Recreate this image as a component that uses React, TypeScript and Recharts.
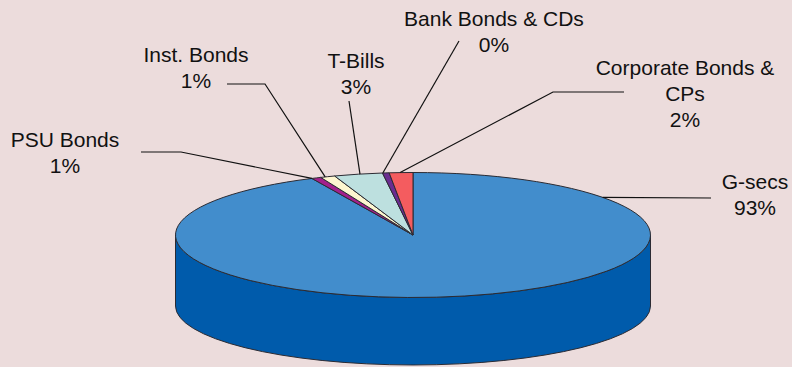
import { Pie, PieChart } from "recharts";

const WIDTH = 792;
const HEIGHT = 367;
const BACKGROUND = "#ecdcdc";
const EDGE = "#2b2b33";
const TEXT = "#111111";

const categories = ["G-secs", "PSU Bonds", "Inst. Bonds", "T-Bills", "Bank Bonds & CDs", "Corporate Bonds &\nCPs"];
const shares = [93, 0.65, 1, 3.3, 0.45, 1.6];
const topColors = ["#428dcc", "#a3208c", "#fdf6cf", "#bde0df", "#6a2c91", "#f45c5f"];
const sideColors = ["#005bab", "#7a1869", "#bdb89b", "#8da8a7", "#4f216d", "#b74547"];

// where each label sits (centre x, first baseline) and how its leader runs
const labelAnchors = [
  [755, 189],
  [65, 147],
  [196, 62],
  [356, 68],
  [494, 26],
  [685, 75],
];
const leaderBends = [
  [[711, 198]],
  [[141, 152], [181, 152]],
  [[227, 84], [265, 84]],
  [[349, 101]],
  [[459, 41]],
  [[624, 92], [553, 92]],
];
const leaderAngles = [37, 115.2, 111.7, 102.9, 97.3, 93.1];

const CX = 413;
const CY = 235;
const RX = 237.5;
const RY = 62.5;
const BASE_CY = 306;
const BASE_RY = 59;
const FONT_SIZE = 21;
const LINE_HEIGHT = 26;

const chartData = categories.map((name, i) => ({ name, value: shares[i], fill: topColors[i] }));
const sideData = categories.map((name, i) => ({ name, value: shares[i], fill: sideColors[i] }));

const onEllipse = (deg: number, cy = CY, ry = RY) => {
  const a = (deg * Math.PI) / 180;
  return { x: CX + RX * Math.cos(a), y: cy - ry * Math.sin(a) };
};

// the chart's top face: a circular sector squashed onto the ellipse
function TopSlice(props: any) {
  const { startAngle, endAngle, fill } = props;
  const from = onEllipse(startAngle);
  const to = onEllipse(endAngle);
  const large = Math.abs(startAngle - endAngle) > 180 ? 1 : 0;
  return (
    <path
      d={`M${CX},${CY} L${from.x},${from.y} A${RX},${RY} 0 ${large} 1 ${to.x},${to.y} Z`}
      fill={fill}
      stroke={EDGE}
      strokeWidth={1}
      strokeLinejoin="round"
    />
  );
}

// the visible wall, only the part of a slice facing the front
function SideSlice(props: any) {
  const { startAngle, endAngle, fill } = props;
  const a0 = Math.min(startAngle, 0);
  const a1 = Math.max(endAngle, -180);
  if (a0 <= a1) return null;
  const t0 = onEllipse(a0);
  const t1 = onEllipse(a1);
  const b0 = onEllipse(a0, BASE_CY, BASE_RY);
  const b1 = onEllipse(a1, BASE_CY, BASE_RY);
  return (
    <path
      d={`M${t0.x},${t0.y} A${RX},${RY} 0 0 1 ${t1.x},${t1.y} L${b1.x},${b1.y} A${RX},${BASE_RY} 0 0 0 ${b0.x},${b0.y} Z`}
      fill={fill}
      stroke={EDGE}
      strokeWidth={1}
    />
  );
}

function SliceLabel(props: any) {
  const { index, name, percent } = props;
  const [x, y] = labelAnchors[index];
  const rows = [...String(name).split("\n"), `${Math.round(percent * 100)}%`];
  const end = onEllipse(leaderAngles[index]);
  const points = [...leaderBends[index], [end.x, end.y]].map((p) => p.join(",")).join(" ");
  return (
    <g>
      <polyline points={points} fill="none" stroke="#111111" strokeWidth={1.2} />
      <text x={x} y={y} textAnchor="middle" fontSize={FONT_SIZE} fontFamily="Liberation Sans, Arial, sans-serif" fill={TEXT}>
        {rows.map((row, i) => (
          <tspan key={i} x={x} y={y + i * LINE_HEIGHT}>
            {row}
          </tspan>
        ))}
      </text>
    </g>
  );
}

export default function App() {
  return (
    <div style={{ position: "absolute", left: 0, top: 0, width: WIDTH, height: HEIGHT, background: BACKGROUND, overflow: "hidden" }}>
      <PieChart width={WIDTH} height={HEIGHT} margin={{ top: 0, right: 0, bottom: 0, left: 0 }}>
        <Pie
          data={sideData}
          dataKey="value"
          nameKey="name"
          cx={CX}
          cy={CY}
          outerRadius={RX}
          startAngle={90}
          endAngle={-270}
          shape={SideSlice}
          label={false}
          labelLine={false}
          isAnimationActive={false}
        />
        <Pie
          data={chartData}
          dataKey="value"
          nameKey="name"
          cx={CX}
          cy={CY}
          outerRadius={RX}
          startAngle={90}
          endAngle={-270}
          shape={TopSlice}
          label={SliceLabel}
          labelLine={false}
          isAnimationActive={false}
        />
      </PieChart>
    </div>
  );
}
